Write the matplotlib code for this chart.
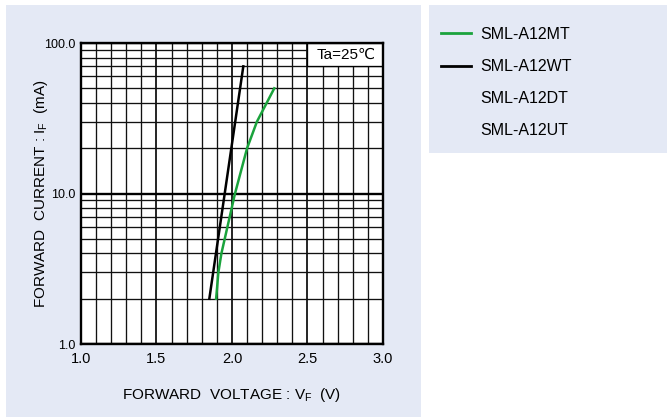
import matplotlib
matplotlib.use('Agg')
from matplotlib import pyplot as plt
from matplotlib.patches import Rectangle
from matplotlib.lines import Line2D
from matplotlib.ticker import FixedLocator, NullFormatter
import numpy as np

plt.rcParams['font.family'] = ['Liberation Sans', 'DejaVu Sans']

# forward voltage (V) vs forward current (mA)
wt_vf = [1.85, 2.075]
wt_if = [2.0, 70.0]
mt_vf = [1.895, 1.91, 1.93, 2.02, 2.10, 2.165, 2.28]
mt_if = [2.0, 3.0, 4.0, 10.0, 20.0, 30.0, 50.0]

series_names = ['SML-A12MT', 'SML-A12WT', 'SML-A12DT', 'SML-A12UT']
series_colors = ['#1aa33c', 'black', 'none', 'none']

x_ticks = [1.0, 1.5, 2.0, 2.5, 3.0]
x_labels = ['1.0', '1.5', '2.0', '2.5', '3.0']
y_ticks = [1, 10, 100]
y_labels = ['1.0', '10.0', '100.0']

panel = '#e4e9f5'

fig = plt.figure(figsize=(6.67, 4.17), dpi=100)
fig.patches.append(Rectangle((0.009, 0.0), 0.622, 0.988, transform=fig.transFigure,
                             facecolor=panel, edgecolor='none', zorder=-10))
fig.patches.append(Rectangle((0.643, 0.633), 0.357, 0.355, transform=fig.transFigure,
                             facecolor=panel, edgecolor='none', zorder=-10))

ax = fig.add_axes([0.1214, 0.175, 0.4528, 0.7218])
ax.set_facecolor('white')
ax.set_yscale('log')
ax.set_xlim(1.0, 3.0)
ax.set_ylim(1, 100)

ax.xaxis.set_major_locator(FixedLocator(x_ticks))
ax.xaxis.set_minor_locator(FixedLocator(np.arange(1.1, 3.0, 0.1)))
ax.set_xticklabels(x_labels)
ax.yaxis.set_major_locator(FixedLocator(y_ticks))
ax.set_yticklabels(y_labels)
ax.yaxis.set_minor_locator(FixedLocator([2, 3, 4, 5, 6, 7, 8, 9, 20, 30, 40, 50, 60, 70, 80, 90]))
ax.yaxis.set_minor_formatter(NullFormatter())

ax.grid(which='minor', color='#111111', lw=0.95)
ax.grid(which='major', axis='x', color='black', lw=1.2)
ax.grid(which='major', axis='y', color='black', lw=1.7)
ax.set_axisbelow(True)
ax.tick_params(which='both', length=0)
ax.tick_params(axis='x', labelsize=10.5, pad=6)
ax.tick_params(axis='y', labelsize=9, pad=4)
for s in ax.spines.values():
    s.set_linewidth(1.7)

ax.plot(wt_vf, wt_if, color=series_colors[1], lw=1.8)
ax.plot(mt_vf, mt_if, color=series_colors[0], lw=1.8)

# white label box between the 2.5 V line and the right edge, above the 70 mA line
ax.add_patch(Rectangle((2.5, 70), 0.5, 30, facecolor='white', edgecolor='black', lw=0.95, zorder=1.5))
ax.text(2.755, 84, 'Ta=25℃', ha='center', va='center', fontsize=11, zorder=3)

ax.set_xlabel('FORWARD  VOLTAGE : V$\\mathregular{_F}$  (V)', fontsize=11, labelpad=14)
ax.set_ylabel('FORWARD  CURRENT : I$\\mathregular{_F}$  (mA)', fontsize=11)
ax.yaxis.set_label_coords(-0.103, 0.5)

handles = [Line2D([], [], color=c, lw=2) for c in series_colors]
fig.legend(handles, series_names, loc='upper left', bbox_to_anchor=(0.6394, 0.9696),
           frameon=False, fontsize=11.5, handlelength=1.9, labelspacing=1.07, handletextpad=0.56)

fig.savefig('out.png', dpi=100)
